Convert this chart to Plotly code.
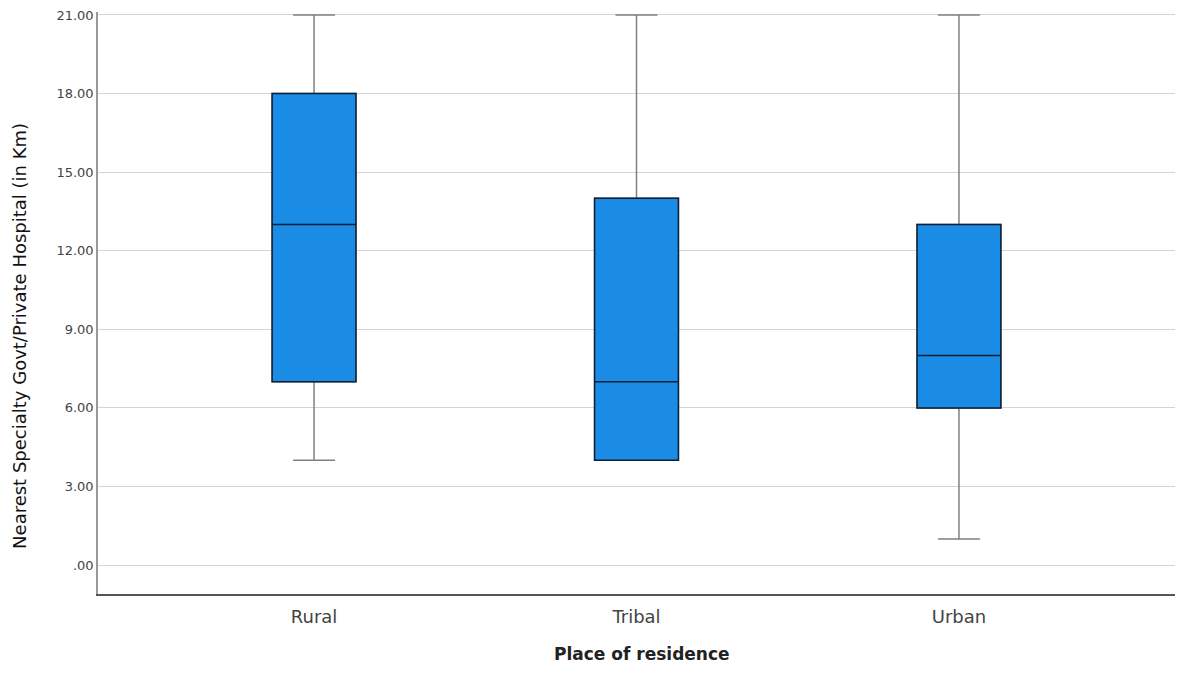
import plotly.graph_objects as go

categories = ["Rural", "Tribal", "Urban"]
lower_whisker = [4, 4, 1]
q1_values = [7, 4, 6]
median_values = [13, 7, 8]
q3_values = [18, 14, 13]
upper_whisker = [21, 21, 21]
y_ticks = [0, 3, 6, 9, 12, 15, 18, 21]
y_tick_labels = [".00", "3.00", "6.00", "9.00", "12.00", "15.00", "18.00", "21.00"]
x_title = "Place of residence"
y_title = "Nearest Specialty Govt/Private Hospital (in Km)"

fig = go.Figure()
# whiskers (gray)
fig.add_trace(go.Box(
    x=categories, q1=q1_values, median=median_values, q3=q3_values,
    lowerfence=lower_whisker, upperfence=upper_whisker,
    fillcolor="#1a8ce6", line=dict(color="#808080", width=1.5),
    whiskerwidth=0.5, width=0.26, boxpoints=False, showlegend=False,
    hoverinfo="skip",
))
# boxes (dark outline)
fig.add_trace(go.Box(
    x=categories, q1=q1_values, median=median_values, q3=q3_values,
    lowerfence=q1_values, upperfence=q3_values,
    fillcolor="#1a8ce6", line=dict(color="#0d1f33", width=1.5),
    whiskerwidth=0.5, width=0.26, boxpoints=False, showlegend=False,
))

fig.update_layout(
    width=1167, height=661,
    boxmode="overlay",
    paper_bgcolor="white", plot_bgcolor="white",
    margin=dict(l=90, r=0, t=2, b=75),
    font=dict(family="DejaVu Sans, sans-serif", color="#222"),
    xaxis=dict(
        range=[-0.67, 2.67], showgrid=False, showline=True,
        linecolor="#555", linewidth=1.5, ticks="",
        tickfont=dict(size=18, color="#444"), ticklabelstandoff=6,
    ),
    yaxis=dict(
        range=[-1.103, 21.114], tickvals=y_ticks, ticktext=y_tick_labels,
        showgrid=True, gridcolor="#d4d4d4", gridwidth=1.2,
        showline=True, linecolor="#999", linewidth=1.5, ticks="",
        zeroline=False, ticklabeloverflow="allow",
        tickfont=dict(size=13, color="#444"),
    ),
    annotations=[
        dict(text="<b>" + x_title + "</b>", xref="paper", yref="paper",
             x=0.505, y=-0.1027, xanchor="center", yanchor="middle",
             showarrow=False, font=dict(family="DejaVu Sans, sans-serif", size=17, color="#222")),
        dict(text=y_title, xref="paper", yref="paper",
             x=-0.0724, y=0.4435, xanchor="center", yanchor="middle", textangle=-90,
             showarrow=False, font=dict(family="DejaVu Sans, sans-serif", size=18, color="#111")),
    ],
)

fig.write_html("out.html")
